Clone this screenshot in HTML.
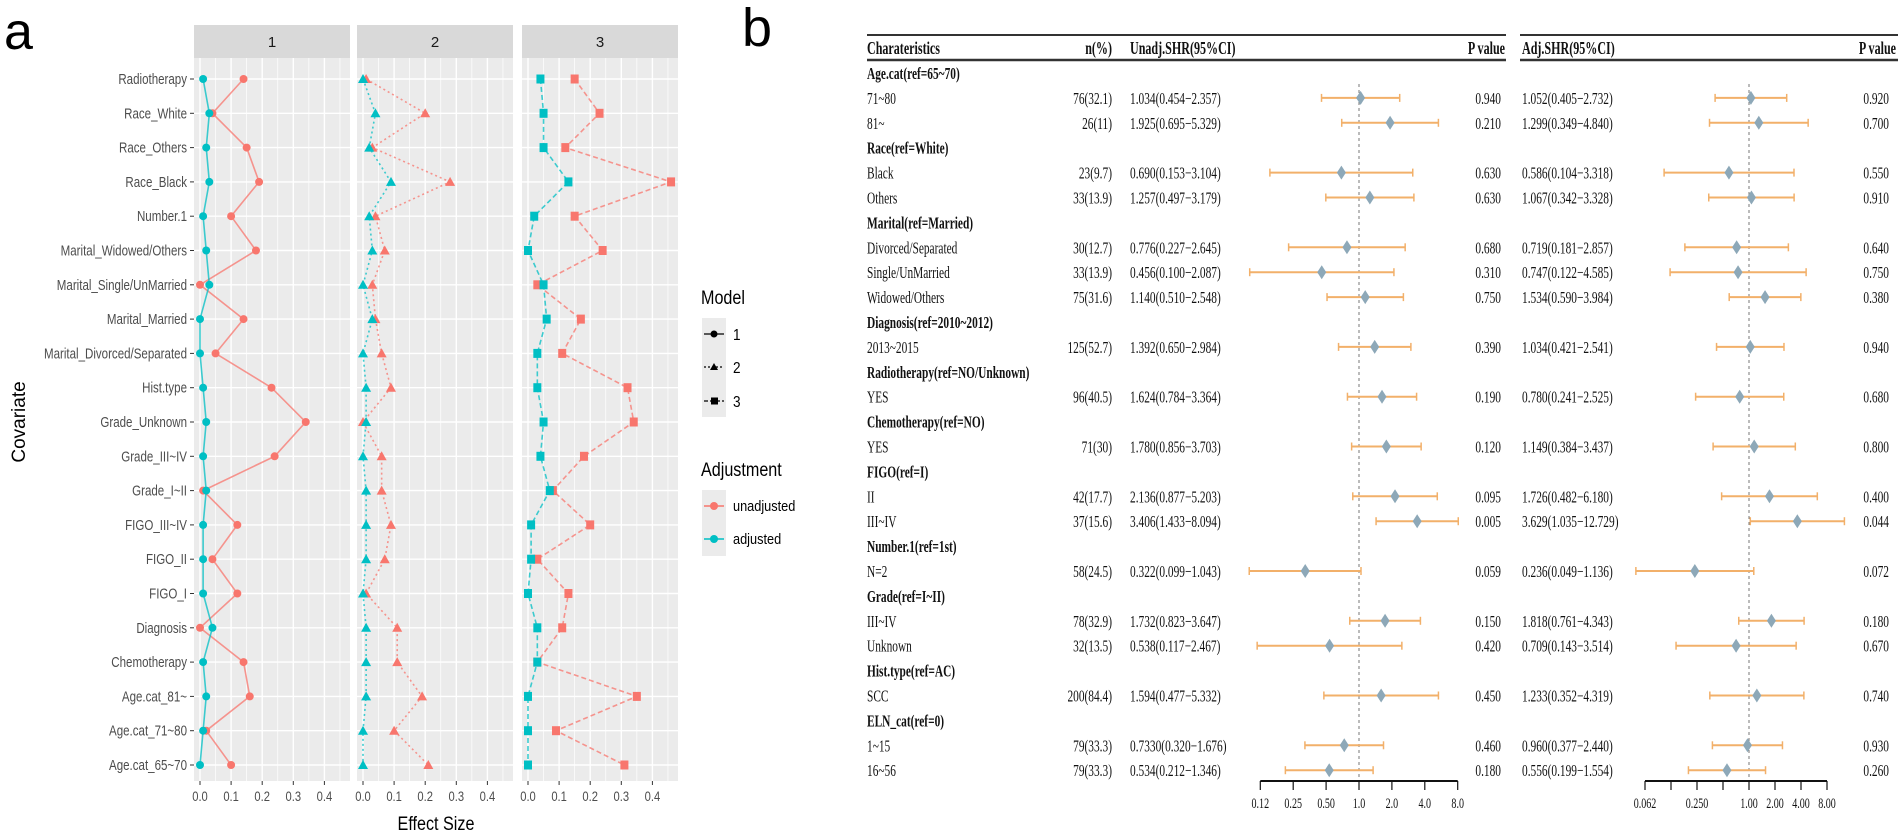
<!DOCTYPE html>
<html><head><meta charset="utf-8"><style>
html,body{margin:0;padding:0;background:#fff;}
svg{display:block;}
.sans{font-family:"Liberation Sans",sans-serif;}
.serif{font-family:"Liberation Serif",serif;}
</style></head>
<body>
<svg id="fig" width="1902" height="837" viewBox="0 0 1902 837" xmlns="http://www.w3.org/2000/svg">
<text x="4" y="49" class="sans" font-size="52" fill="#000">a</text>
<text x="742" y="46" class="sans" font-size="54" fill="#000">b</text>
<g id="pa"></g>
<g id="pb"></g>
</svg>
<script>
// ---------- Panel a data ----------
const cats = ["Radiotherapy","Race_White","Race_Others","Race_Black","Number.1","Marital_Widowed/Others","Marital_Single/UnMarried","Marital_Married","Marital_Divorced/Separated","Hist.type","Grade_Unknown","Grade_III~IV","Grade_I~II","FIGO_III~IV","FIGO_II","FIGO_I","Diagnosis","Chemotherapy","Age.cat_81~","Age.cat_71~80","Age.cat_65~70"];
const unadj1 = [0.14,0.04,0.15,0.19,0.10,0.18,0.00,0.14,0.05,0.23,0.34,0.24,0.01,0.12,0.04,0.12,0.00,0.14,0.16,0.02,0.10];
const adj1   = [0.01,0.03,0.02,0.03,0.01,0.02,0.03,0.00,0.00,0.01,0.02,0.01,0.02,0.01,0.01,0.01,0.04,0.01,0.02,0.01,0.00];
const unadj2 = [0.01,0.20,0.03,0.28,0.04,0.07,0.03,0.04,0.06,0.09,0.00,0.06,0.06,0.09,0.07,0.01,0.11,0.11,0.19,0.10,0.21];
const adj2   = [0.00,0.04,0.02,0.09,0.02,0.03,0.00,0.03,0.00,0.01,0.01,0.00,0.01,0.01,0.01,0.00,0.01,0.01,0.01,0.00,0.00];
const unadj3 = [0.15,0.23,0.12,0.46,0.15,0.24,0.03,0.17,0.11,0.32,0.34,0.18,0.08,0.20,0.03,0.13,0.11,0.03,0.35,0.09,0.31];
const adj3   = [0.04,0.05,0.05,0.13,0.02,0.00,0.05,0.06,0.03,0.03,0.05,0.04,0.07,0.01,0.01,0.00,0.03,0.03,0.00,0.00,0.00];
const facetLabels = ["1","2","3"];
const xTicks = [0,0.1,0.2,0.3,0.4];
const xTickLabels = ["0.0","0.1","0.2","0.3","0.4"];
const xMinor = [0.05,0.15,0.25,0.35,0.45];

// ---------- Panel b data ----------
const rowLabels = ["Age.cat(ref=65~70)","71~80","81~","Race(ref=White)","Black","Others","Marital(ref=Married)","Divorced/Separated","Single/UnMarried","Widowed/Others","Diagnosis(ref=2010~2012)","2013~2015","Radiotherapy(ref=NO/Unknown)","YES","Chemotherapy(ref=NO)","YES","FIGO(ref=I)","II","III~IV","Number.1(ref=1st)","N=2","Grade(ref=I~II)","III~IV","Unknown","Hist.type(ref=AC)","SCC","ELN_cat(ref=0)","1~15","16~56"];
const nText = [null,"76(32.1)","26(11)",null,"23(9.7)","33(13.9)",null,"30(12.7)","33(13.9)","75(31.6)",null,"125(52.7)",null,"96(40.5)",null,"71(30)",null,"42(17.7)","37(15.6)",null,"58(24.5)",null,"78(32.9)","32(13.5)",null,"200(84.4)",null,"79(33.3)","79(33.3)"];
const unHR = [null,1.034,1.925,null,0.690,1.257,null,0.776,0.456,1.140,null,1.392,null,1.624,null,1.780,null,2.136,3.406,null,0.322,null,1.732,0.538,null,1.594,null,0.733,0.534];
const unLo = [null,0.454,0.695,null,0.153,0.497,null,0.227,0.100,0.510,null,0.650,null,0.784,null,0.856,null,0.877,1.433,null,0.099,null,0.823,0.117,null,0.477,null,0.320,0.212];
const unHi = [null,2.357,5.329,null,3.104,3.179,null,2.645,2.087,2.548,null,2.984,null,3.364,null,3.703,null,5.203,8.094,null,1.043,null,3.647,2.467,null,5.332,null,1.676,1.346];
const unText = [null,"1.034(0.454−2.357)","1.925(0.695−5.329)",null,"0.690(0.153−3.104)","1.257(0.497−3.179)",null,"0.776(0.227−2.645)","0.456(0.100−2.087)","1.140(0.510−2.548)",null,"1.392(0.650−2.984)",null,"1.624(0.784−3.364)",null,"1.780(0.856−3.703)",null,"2.136(0.877−5.203)","3.406(1.433−8.094)",null,"0.322(0.099−1.043)",null,"1.732(0.823−3.647)","0.538(0.117−2.467)",null,"1.594(0.477−5.332)",null,"0.7330(0.320−1.676)","0.534(0.212−1.346)"];
const unP = [null,"0.940","0.210",null,"0.630","0.630",null,"0.680","0.310","0.750",null,"0.390",null,"0.190",null,"0.120",null,"0.095","0.005",null,"0.059",null,"0.150","0.420",null,"0.450",null,"0.460","0.180"];
const adHR = [null,1.052,1.299,null,0.586,1.067,null,0.719,0.747,1.534,null,1.034,null,0.780,null,1.149,null,1.726,3.629,null,0.236,null,1.818,0.709,null,1.233,null,0.960,0.556];
const adLo = [null,0.405,0.349,null,0.104,0.342,null,0.181,0.122,0.590,null,0.421,null,0.241,null,0.384,null,0.482,1.035,null,0.049,null,0.761,0.143,null,0.352,null,0.377,0.199];
const adHi = [null,2.732,4.840,null,3.318,3.328,null,2.857,4.585,3.984,null,2.541,null,2.525,null,3.437,null,6.180,12.729,null,1.136,null,4.343,3.514,null,4.319,null,2.440,1.554];
const adText = [null,"1.052(0.405−2.732)","1.299(0.349−4.840)",null,"0.586(0.104−3.318)","1.067(0.342−3.328)",null,"0.719(0.181−2.857)","0.747(0.122−4.585)","1.534(0.590−3.984)",null,"1.034(0.421−2.541)",null,"0.780(0.241−2.525)",null,"1.149(0.384−3.437)",null,"1.726(0.482−6.180)","3.629(1.035−12.729)",null,"0.236(0.049−1.136)",null,"1.818(0.761−4.343)","0.709(0.143−3.514)",null,"1.233(0.352−4.319)",null,"0.960(0.377−2.440)","0.556(0.199−1.554)"];
const adP = [null,"0.920","0.700",null,"0.550","0.910",null,"0.640","0.750","0.380",null,"0.940",null,"0.680",null,"0.800",null,"0.400","0.044",null,"0.072",null,"0.180","0.670",null,"0.740",null,"0.930","0.260"];
const unAxisTicks = [0.125,0.25,0.5,1,2,4,8];
const unAxisLabels = ["0.12","0.25","0.50","1.0","2.0","4.0","8.0"];
const adAxisTicks = [0.0625,0.125,0.25,0.5,1,2,4,8];
const adAxisLabels = ["0.062","","0.250","","1.00","2.00","4.00","8.00"];

const NS = "http://www.w3.org/2000/svg";
function mk(parent, tag, attrs, text){
  const e = document.createElementNS(NS, tag);
  for (const k in attrs) e.setAttribute(k, attrs[k]);
  if (text !== undefined) e.textContent = text;
  parent.appendChild(e);
  return e;
}
const RED = "#F8766D", CYAN = "#00BFC4";

// ---------- Panel a ----------
const pa = document.getElementById("pa");
const facetLeft = [194,357,522], facetW = 156, plotTop = 58, plotBot = 781;
function xS(f, v){ return facetLeft[f] + 6 + v*311; }
function yS(i){ return 79 + i*34.3; }
const series = [[unadj1,adj1],[unadj2,adj2],[unadj3,adj3]];
const dashes = ["none","2,3","5,3"];

for (let f=0; f<3; f++){
  const g = mk(pa, "g", {});
  
  
  const strip = mk(g, "rect", {x:facetLeft[f], y:25, width:facetW, height:33, fill:"#D9D9D9"});
  
  
  const st = mk(g, "text", {x:facetLeft[f]+facetW/2, y:47, "text-anchor":"middle", "font-size":15, fill:"#1a1a1a", class:"sans"}, facetLabels[f]);
  
  
  const bg = mk(g, "rect", {x:facetLeft[f], y:plotTop, width:facetW, height:plotBot-plotTop, fill:"#EBEBEB"});
  
  
  xMinor.forEach(v=>{ const x=xS(f,v); if (x<facetLeft[f]+facetW) mk(g,"line",{x1:x,x2:x,y1:plotTop,y2:plotBot,stroke:"#fff","stroke-width":0.7}); });
  xTicks.forEach((v,k)=>{
    const x = xS(f,v);
    mk(g,"line",{x1:x,x2:x,y1:plotTop,y2:plotBot,stroke:"#fff","stroke-width":1.4});
    mk(g,"line",{x1:x,x2:x,y1:plotBot,y2:plotBot+4,stroke:"#333","stroke-width":1});
    const tl = mk(g,"text",{transform:`translate(${x},${plotBot+20}) scale(0.8,1)`,"text-anchor":"middle","font-size":14,fill:"#4d4d4d",class:"sans"}, xTickLabels[k]);
    
    
  });
  cats.forEach((c,i)=>{ mk(g,"line",{x1:facetLeft[f],x2:facetLeft[f]+facetW,y1:yS(i),y2:yS(i),stroke:"#fff","stroke-width":1.4}); });
  series[f].forEach((arr, s)=>{
    const col = s===0 ? RED : CYAN;
    const pts = arr.map((v,i)=>xS(f,v)+","+yS(i)).join(" ");
    const pl = mk(g,"polyline",{points:pts,fill:"none",stroke:col,"stroke-width":1.6,"stroke-opacity":0.75,"stroke-dasharray":dashes[f]});
    
    
    arr.forEach((v,i)=>{
      const x = xS(f,v), y = yS(i);
      let m;
      if (f===0) m = mk(g,"circle",{cx:x,cy:y,r:4,fill:col});
      else if (f===1) m = mk(g,"polygon",{points:`${x},${y-5} ${x-5},${y+4} ${x+5},${y+4}`,fill:col});
      else m = mk(g,"rect",{x:x-4,y:y-4.5,width:8,height:9,fill:col});
      
      
    });
  });
}
cats.forEach((c,i)=>{
  mk(pa,"line",{x1:190,x2:194,y1:yS(i),y2:yS(i),stroke:"#333","stroke-width":1});
  const t = mk(pa,"text",{transform:`translate(187,${yS(i)+5}) scale(0.77,1)`,"text-anchor":"end","font-size":15,fill:"#4d4d4d",class:"sans"}, c);
  
  
});
const xt = mk(pa,"text",{transform:"translate(436,830) scale(0.85,1)","text-anchor":"middle","font-size":19,fill:"#000",class:"sans"},"Effect Size");


const yt = mk(pa,"text",{transform:"translate(25,422) rotate(-90)","text-anchor":"middle","font-size":19,fill:"#000",class:"sans"},"Covariate");



// legends
const lg1 = mk(pa,"g",{});


mk(lg1,"text",{transform:"translate(701,304) scale(0.85,1)","font-size":19,fill:"#000",class:"sans"},"Model");
mk(lg1,"rect",{x:702,y:318,width:24,height:99,fill:"#EBEBEB"});
const mY = [334,367,401], mLab = ["1","2","3"], mDash = ["none","2,2","4,2"];
mY.forEach((y,k)=>{
  const e = mk(lg1,"g",{});
  
  
  mk(e,"line",{x1:704,x2:724,y1:y,y2:y,stroke:"#000","stroke-width":1.2,"stroke-dasharray":mDash[k]});
  if (k===0) mk(e,"circle",{cx:714,cy:y,r:3.5,fill:"#000"});
  else if (k===1) mk(e,"polygon",{points:`714,${y-4} 710,${y+3} 718,${y+3}`,fill:"#000"});
  else mk(e,"rect",{x:711,y:y-3.5,width:7,height:7,fill:"#000"});
  mk(e,"text",{transform:`translate(733,${y+6}) scale(0.85,1)`,"font-size":16,fill:"#000",class:"sans"},mLab[k]);
});
const lg2 = mk(pa,"g",{});


mk(lg2,"text",{transform:"translate(701,476) scale(0.85,1)","font-size":19,fill:"#000",class:"sans"},"Adjustment");
mk(lg2,"rect",{x:702,y:490,width:24,height:66,fill:"#EBEBEB"});
[[506,RED,"unadjusted"],[539,CYAN,"adjusted"]].forEach(([y,c,l])=>{
  const e = mk(lg2,"g",{});
  
  
  mk(e,"line",{x1:704,x2:724,y1:y,y2:y,stroke:c,"stroke-width":1.6});
  mk(e,"circle",{cx:714,cy:y,r:4,fill:c});
  mk(e,"text",{transform:`translate(733,${y+5}) scale(0.85,1)`,"font-size":15,fill:"#000",class:"sans"},l);
});

// ---------- Panel b ----------
const pb = document.getElementById("pb");
function rY(i){ return 73 + i*24.9; }
function uX(v){ return 1359 + Math.log2(v)*32.9; }
function aX(v){ return 1749 + Math.log2(v)*26; }
function txt(parent, x, y, s, anchor, bold, size, name){
  const t = mk(parent,"text",{transform:`translate(${x},${y}) scale(0.67,1)`,"text-anchor":anchor,"font-size":size||17,"font-weight":bold?"bold":"normal",fill:"#111",class:"serif"}, s);
  
  
  return t;
}
mk(pb,"line",{x1:867,x2:1506,y1:35,y2:35,stroke:"#333","stroke-width":2});
mk(pb,"line",{x1:1520,x2:1898,y1:35,y2:35,stroke:"#333","stroke-width":2});
mk(pb,"line",{x1:867,x2:1506,y1:60,y2:60,stroke:"#333","stroke-width":2.5});
mk(pb,"line",{x1:1520,x2:1898,y1:60,y2:60,stroke:"#333","stroke-width":2.5});
txt(pb,867,54,"Charateristics","start",true,18,"header-characteristics");
txt(pb,1112,54,"n(%)","end",true,18,"header-n");
txt(pb,1130,54,"Unadj.SHR(95%CI)","start",true,18,"header-unadj-shr");
txt(pb,1505,54,"P value","end",true,18,"header-p-unadj");
txt(pb,1522,54,"Adj.SHR(95%CI)","start",true,18,"header-adj-shr");
txt(pb,1896,54,"P value","end",true,18,"header-p-adj");

// reference lines
mk(pb,"line",{x1:uX(1),x2:uX(1),y1:84,y2:781,stroke:"#777","stroke-width":1,"stroke-dasharray":"3,3"});
mk(pb,"line",{x1:aX(1),x2:aX(1),y1:84,y2:781,stroke:"#777","stroke-width":1,"stroke-dasharray":"3,3"});

rowLabels.forEach((lab,i)=>{
  const y = rY(i);
  const row = mk(pb,"g",{});
  
  
  const isHead = nText[i]===null;
  txt(row,867,y+6,lab,"start",isHead,17,isHead?"group-header":"row-label");
  if (isHead) return;
  txt(row,1112,y+6,nText[i],"end",false,17,"n-percent");
  txt(row,1130,y+6,unText[i],"start",false,17,"unadj-shr-text");
  txt(row,1501,y+6,unP[i],"end",false,17,"unadj-p-value");
  txt(row,1522,y+6,adText[i],"start",false,17,"adj-shr-text");
  txt(row,1889,y+6,adP[i],"end",false,17,"adj-p-value");
  [[uX,unHR,unLo,unHi,'unadj'],[aX,adHR,adLo,adHi,'adj']].forEach(([sc,hr,lo,hi,nm])=>{
    const x1=sc(lo[i]), x2=sc(hi[i]), xm=sc(hr[i]);
    const ci = mk(row,"line",{x1:x1,x2:x2,y1:y,y2:y,stroke:"#F2B06A","stroke-width":2});
    
    
    mk(row,"line",{x1:x1,x2:x1,y1:y-4,y2:y+4,stroke:"#F2B06A","stroke-width":1.5});
    mk(row,"line",{x1:x2,x2:x2,y1:y-4,y2:y+4,stroke:"#F2B06A","stroke-width":1.5});
    const d = mk(row,"polygon",{points:`${xm},${y-7} ${xm+4.5},${y} ${xm},${y+7} ${xm-4.5},${y}`,fill:"#8DA8B8"});
    
    
  });
});

// forest axes
[[uX,unAxisTicks,unAxisLabels,'unadj'],[aX,adAxisTicks,adAxisLabels,'adj']].forEach(([sc,ticks,labs,nm])=>{
  const g = mk(pb,"g",{});
  
  
  mk(g,"line",{x1:sc(ticks[0]),x2:sc(ticks[ticks.length-1]),y1:781,y2:781,stroke:"#111","stroke-width":2});
  ticks.forEach((v,k)=>{
    mk(g,"line",{x1:sc(v),x2:sc(v),y1:781,y2:790,stroke:"#111","stroke-width":1.2});
    if (labs[k]) txt(g,sc(v),808,labs[k],"middle",false,15,"forest-tick-label");
  });
});
</script>
</body></html>
